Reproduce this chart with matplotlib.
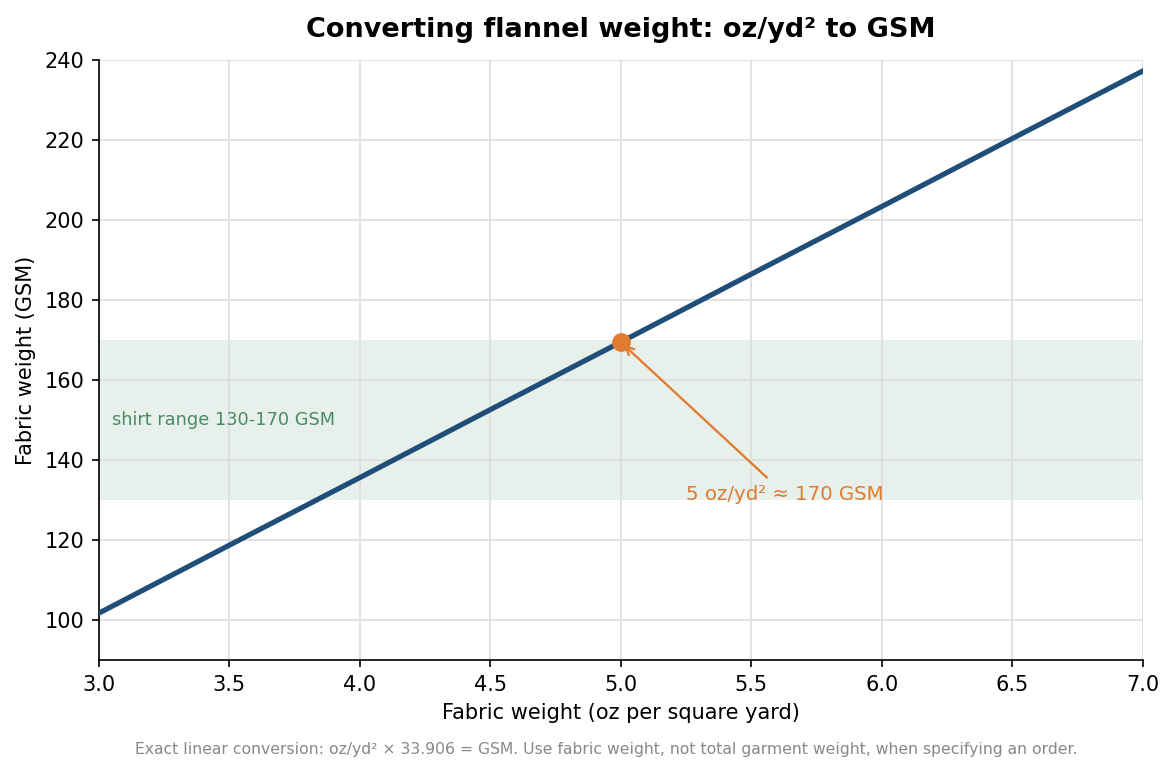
import matplotlib
matplotlib.use("Agg")
import matplotlib.pyplot as plt

# oz/yd2 -> GSM (factor 33.906)
oz = [3.0, 3.5, 4.0, 4.5, 5.0, 5.5, 6.0, 6.5, 7.0]
gsm = [101.7, 118.7, 135.6, 152.6, 169.5, 186.5, 203.4, 220.4, 237.3]

shirt_lo, shirt_hi = 130, 170
mark_oz, mark_gsm = 5.0, 169.5

fig, ax = plt.subplots(figsize=(7.83, 5.147), dpi=150)

ax.axhspan(shirt_lo, shirt_hi, color="#2e7d55", alpha=0.11, lw=0, zorder=0.5)
ax.plot(oz, gsm, color="#1f4e79", lw=2.5, zorder=3)
ax.plot([mark_oz], [mark_gsm], "o", color="#e07b30", ms=8, zorder=4)

ax.text(3.05, 150, "shirt range 130-170 GSM", color="#4a8a6a",
        fontsize=8.5, va="center")
ax.annotate("5 oz/yd² ≈ 170 GSM", xy=(mark_oz, mark_gsm),
            xytext=(5.25, 131.5), color="#e07b30", fontsize=9.5,
            va="center", ha="left",
            arrowprops=dict(arrowstyle="->", color="#e07b30", lw=1.1))

ax.set_xlim(3.0, 7.0)
ax.set_ylim(90, 240)
ax.set_xticks([3.0, 3.5, 4.0, 4.5, 5.0, 5.5, 6.0, 6.5, 7.0])
ax.set_yticks(range(100, 241, 20))
ax.grid(True, color="#dddddd", lw=0.8, zorder=1)
ax.set_axisbelow(True)
for s in ("top", "right"):
    ax.spines[s].set_visible(False)

ax.set_xlabel("Fabric weight (oz per square yard)", fontsize=10)
ax.set_ylabel("Fabric weight (GSM)", fontsize=10)
ax.set_title("Converting flannel weight: oz/yd² to GSM", fontsize=13,
             fontweight="bold", pad=11)

fig.text(0.516, 0.024, "Exact linear conversion: oz/yd² × 33.906 = GSM. "
         "Use fabric weight, not total garment weight, when specifying an order.",
         ha="center", fontsize=7.5, color="#888888")

fig.subplots_adjust(left=0.084, right=0.973, top=0.922, bottom=0.145)
fig.savefig("out.png", dpi=150)
